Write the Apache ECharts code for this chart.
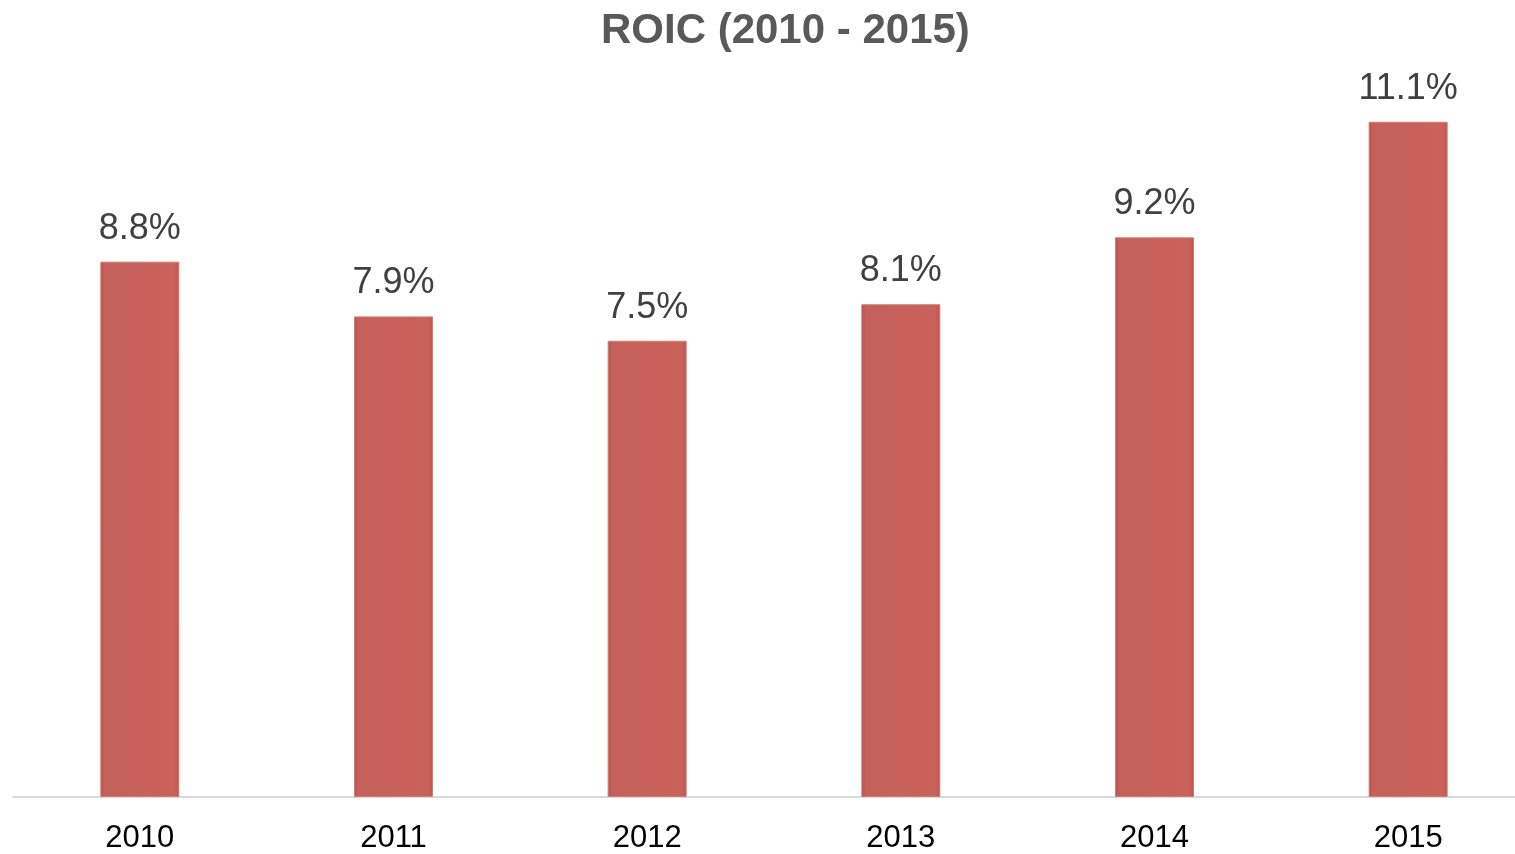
<!DOCTYPE html>
<html>
<head>
<meta charset="utf-8">
<script src="https://cdn.jsdelivr.net/npm/echarts@6/dist/echarts.min.js"></script>
<style>
  html, body { margin: 0; padding: 0; background: #fff; overflow: hidden; }
  #chart { width: 1540px; height: 854px; }
</style>
</head>
<body>
<div id="chart"></div>
<script>
const years = ['2010', '2011', '2012', '2013', '2014', '2015'];
const roic = [8.8, 7.9, 7.5, 8.1, 9.2, 11.1];

let chart = echarts.init(document.getElementById('chart'));

chart.setOption({
    animation: false,
    title: {
        text: 'ROIC (2010 - 2015)',
        left: 596,
        top: 5,
        textStyle: { fontFamily: 'Liberation Sans, Arial', fontSize: 42, fontWeight: 'bold', color: '#595959' }
    },
    grid: { left: 13, right: 5, top: 67, bottom: 57 },
    xAxis: {
        type: 'category',
        data: years,
        axisLine: { lineStyle: { color: '#d9d9d9', width: 2 } },
        axisTick: { show: false },
        axisLabel: { fontFamily: 'Liberation Sans, Arial', fontSize: 31, color: '#000', margin: 26 }
    },
    yAxis: {
        type: 'value',
        min: 0,
        max: 12,
        show: false,
        splitLine: { show: false }
    },
    series: [{
        type: 'bar',
        data: roic,
        barWidth: 79,
        itemStyle: {
            color: {
                type: 'linear', x: 0, y: 0, x2: 1, y2: 0,
                colorStops: [
                    { offset: 0, color: '#b5534d' },
                    { offset: 0.06, color: '#c6605a' },
                    { offset: 0.94, color: '#c8625b' },
                    { offset: 1, color: '#b95650' }
                ]
            },
            borderColor: '#d47a73',
            borderWidth: 1
        },
        label: {
            show: true,
            position: 'top',
            distance: 15,
            formatter: p => p.value.toFixed(1) + '%',
            fontFamily: 'Liberation Sans, Arial',
            fontSize: 36,
            color: '#404040'
        }
    }]
});
</script>
</body>
</html>
